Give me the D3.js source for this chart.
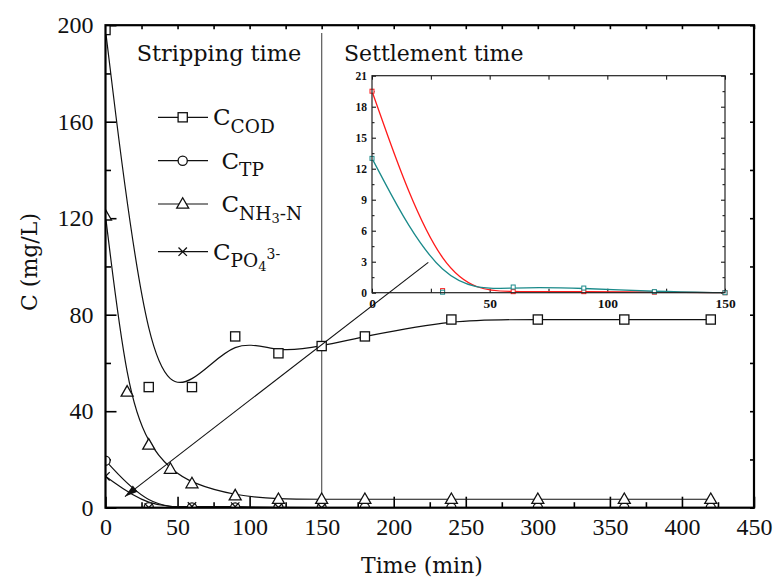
<!DOCTYPE html>
<html><head><meta charset="utf-8">
<script src="https://cdn.jsdelivr.net/npm/d3@7"></script>
<style>
html,body{margin:0;padding:0;background:#fff;}
svg{display:block;}
</style></head>
<body>
<svg id="chart" width="774" height="578"></svg>
<script>
// ---------- data ----------
const timeCOD = [0, 30, 60, 90, 120, 150, 180, 240, 300, 360, 420];
const valCOD  = [198, 50, 50, 71, 64, 67, 71, 78, 78, 78, 78];
const timeNH3 = [0, 15, 30, 45, 60, 90, 120, 150, 180, 240, 300, 360, 420];
const valNH3  = [121, 48, 26, 16, 10, 5, 3.5, 3.5, 3.5, 3.5, 3.5, 3.5, 3.5];
const timeTP  = [0, 30, 60, 90, 120, 150, 180, 240, 300, 360, 420];
const valTP   = [19.5, 0.2, 0.1, 0.1, 0.05, 0, 0, 0, 0, 0, 0];
const timePO4 = [0, 30, 60, 90, 120, 150];
const valPO4  = [13, 0.05, 0.55, 0.45, 0.1, 0];

const xTicks = [0, 50, 100, 150, 200, 250, 300, 350, 400, 450];
const xMinorTicks = [25, 75, 125, 175, 225, 275, 325, 375, 425];
const yTicks = [0, 40, 80, 120, 160, 200];
const yMinorTicks = [20, 60, 100, 140, 180];
const insetXTicks = [0, 50, 100, 150];
const insetXMinor = [25, 75, 125];
const insetYTicks = [0, 3, 6, 9, 12, 15, 18, 21];
const insetYMinor = [1.5, 4.5, 7.5, 10.5, 13.5, 16.5, 19.5];

const phaseBoundary = 150;            // stripping / settlement boundary (min)
const arrowTip  = [13.5, 4.6];        // annotation arrow, data units
const arrowTail = [224, 101.7];

// ---------- setup ----------
const svg = d3.select('#chart');
const SERIF = '"DejaVu Serif", serif';
const NUMF = '"Liberation Serif", "Times New Roman", serif';

const L = 105.5, R = 754, T = 25.2, B = 507.7;
const x = d3.scaleLinear().domain([0, 450]).range([L, R]);
const y = d3.scaleLinear().domain([0, 200]).range([B, T]);

svg.append('defs').append('clipPath').attr('id', 'clipMain')
  .append('rect').attr('x', L).attr('y', T).attr('width', R - L).attr('height', B - T);

function styleAxis(g, font, size, weight) {
  g.select('.domain').remove();
  g.selectAll('line').attr('stroke', '#000').attr('stroke-width', 1.6);
  g.selectAll('text').attr('font-family', font).attr('font-size', size)
    .attr('font-weight', weight || 'normal').attr('fill', '#111');
}

// main axes
svg.append('g').attr('transform', `translate(0,${B})`)
  .call(d3.axisBottom(x).tickValues(xTicks).tickSize(-11).tickPadding(10).tickFormat(d3.format('d')))
  .call(g => styleAxis(g, NUMF, 24));
svg.append('g').attr('transform', `translate(0,${B})`)
  .call(d3.axisBottom(x).tickValues(xMinorTicks).tickSize(-5.5).tickFormat(''))
  .call(g => styleAxis(g, NUMF, 24));
svg.append('g').attr('transform', `translate(${L},0)`)
  .call(d3.axisLeft(y).tickValues(yTicks).tickSize(-11).tickPadding(12).tickFormat(d3.format('d')))
  .call(g => styleAxis(g, NUMF, 24));
svg.append('g').attr('transform', `translate(${L},0)`)
  .call(d3.axisLeft(y).tickValues(yMinorTicks).tickSize(-5.5).tickFormat(''))
  .call(g => styleAxis(g, NUMF, 24));
svg.append('g').attr('transform', `translate(0,${T})`)
  .call(d3.axisTop(x).tickValues(xTicks.concat(xMinorTicks)).tickSize(-4).tickFormat(''))
  .call(g => styleAxis(g, NUMF, 24));
svg.append('g').attr('transform', `translate(${R},0)`)
  .call(d3.axisRight(y).tickValues(yTicks.concat(yMinorTicks)).tickSize(-4).tickFormat(''))
  .call(g => styleAxis(g, NUMF, 24));

// phase boundary line
svg.append('line')
  .attr('x1', x(phaseBoundary)).attr('x2', x(phaseBoundary))
  .attr('y1', 33).attr('y2', B)
  .attr('stroke', '#666').attr('stroke-width', 1.3);

// phase labels
svg.append('text').attr('x', 136.7).attr('y', 61).text('Stripping time')
  .attr('font-family', SERIF).attr('font-size', 22.4).attr('fill', '#111');
svg.append('text').attr('x', 344).attr('y', 61).text('Settlement time')
  .attr('font-family', SERIF).attr('font-size', 22).attr('fill', '#111');

// curves
const plot = svg.append('g').attr('clip-path', 'url(#clipMain)');
const lineMain = d3.line().x(d => x(d[0])).y(d => y(d[1])).curve(d3.curveBasis);
const zip = (a, b) => a.map((t, i) => [t, b[i]]);
const series = [
  {t: timeCOD, v: valCOD, sym: 'square'},
  {t: timeNH3, v: valNH3, sym: 'triangle'},
  {t: timeTP,  v: valTP,  sym: 'circle'},
  {t: timePO4, v: valPO4, sym: 'cross'}
];
series.forEach(s => {
  plot.append('path').datum(zip(s.t, s.v)).attr('d', lineMain)
    .attr('fill', 'none').attr('stroke', '#111').attr('stroke-width', 1.2);
});

function drawMarker(g, sym, cx, cy, color) {
  color = color || '#111';
  if (sym === 'square') {
    g.append('rect').attr('x', cx - 4.6).attr('y', cy - 4.6).attr('width', 9.2).attr('height', 9.2)
      .attr('fill', '#fff').attr('stroke', color).attr('stroke-width', 1.3);
  } else if (sym === 'circle') {
    g.append('circle').attr('cx', cx).attr('cy', cy).attr('r', 4.6)
      .attr('fill', '#fff').attr('stroke', color).attr('stroke-width', 1.3);
  } else if (sym === 'triangle') {
    const h = 10.5, w = 12;
    g.append('path').attr('d', `M${cx},${cy - h * 0.6}L${cx + w / 2},${cy + h * 0.4}L${cx - w / 2},${cy + h * 0.4}Z`)
      .attr('fill', '#fff').attr('stroke', color).attr('stroke-width', 1.3);
  } else if (sym === 'cross') {
    const r = 4.2;
    g.append('path').attr('d', `M${cx - r},${cy - r}L${cx + r},${cy + r}M${cx - r},${cy + r}L${cx + r},${cy - r}`)
      .attr('fill', 'none').attr('stroke', color).attr('stroke-width', 1.3);
  }
}
[series[2], series[3], series[1], series[0]].forEach(s => {
  s.t.forEach((t, i) => drawMarker(plot, s.sym, x(t), y(s.v[i])));
});

// frame
svg.append('rect').attr('x', L).attr('y', T).attr('width', R - L).attr('height', B - T)
  .attr('fill', 'none').attr('stroke', '#000').attr('stroke-width', 2.2);

// axis titles
svg.append('text').attr('x', 422).attr('y', 573).attr('text-anchor', 'middle')
  .attr('font-family', SERIF).attr('font-size', 22).attr('fill', '#111').text('Time (min)');
svg.append('text').attr('transform', 'translate(37,262) rotate(-90)').attr('text-anchor', 'middle')
  .attr('font-family', SERIF).attr('font-size', 22).attr('fill', '#111').text('C (mg/L)');

// legend
const legendRows = [
  {sym: 'square',   ly: 117.3, tx: 213,   parts: [['C', 0, 23], ['COD', 7.5, 18.5]]},
  {sym: 'circle',   ly: 160.7, tx: 221.5, parts: [['C', 0, 23], ['TP', 7.5, 18.5]]},
  {sym: 'triangle', ly: 204,   tx: 221.5, parts: [['C', 0, 23], ['NH', 7.5, 18.5], ['3', 11, 13], ['-N', 7.5, 18.5]]},
  {sym: 'cross',    ly: 251.7, tx: 213,   parts: [['C', 0, 23], ['PO', 7.5, 18.5], ['4', 11, 13], ['3-', -1, 14]]}
];
const leg = svg.append('g');
legendRows.forEach(r => {
  leg.append('line').attr('x1', 158).attr('x2', 208).attr('y1', r.ly).attr('y2', r.ly)
    .attr('stroke', '#111').attr('stroke-width', 1.2);
  drawMarker(leg, r.sym, 182.7, r.ly);
  const base = r.ly + 8;
  const txt = leg.append('text').attr('x', r.tx).attr('y', base)
    .attr('font-family', SERIF).attr('fill', '#111');
  r.parts.forEach(p => {
    txt.append('tspan').attr('y', base + p[1]).attr('font-size', p[2]).text(p[0]);
  });
});

// ---------- inset ----------
const iL = 372, iR = 725, iT = 75.7, iB = 292.7;
const xi = d3.scaleLinear().domain([0, 150]).range([iL, iR]);
const yi = d3.scaleLinear().domain([0, 21]).range([iB, iT]);
const inset = svg.append('g');
inset.append('rect').attr('x', iL).attr('y', iT).attr('width', iR - iL).attr('height', iB - iT)
  .attr('fill', '#fff');
inset.append('g').attr('transform', `translate(0,${iB})`)
  .call(d3.axisBottom(xi).tickValues(insetXTicks).tickSize(-4).tickPadding(6).tickFormat(d3.format('d')))
  .call(g => styleAxis(g, NUMF, 13.5, 'bold'));
inset.append('g').attr('transform', `translate(0,${iB})`)
  .call(d3.axisBottom(xi).tickValues(insetXMinor).tickSize(-4).tickFormat(''))
  .call(g => styleAxis(g, NUMF, 12));
inset.append('g').attr('transform', `translate(${iL},0)`)
  .call(d3.axisLeft(yi).tickValues(insetYTicks).tickSize(-4).tickPadding(5).tickFormat(d3.format('d')))
  .call(g => styleAxis(g, NUMF, 11.5, 'bold'));
inset.append('g').attr('transform', `translate(${iL},0)`)
  .call(d3.axisLeft(yi).tickValues(insetYMinor).tickSize(-2.5).tickFormat(''))
  .call(g => styleAxis(g, NUMF, 11));
inset.append('g').attr('transform', `translate(0,${iT})`)
  .call(d3.axisTop(xi).tickValues(insetXTicks.concat(insetXMinor)).tickSize(-4).tickFormat(''))
  .call(g => styleAxis(g, NUMF, 11));
inset.append('g').attr('transform', `translate(${iR},0)`)
  .call(d3.axisRight(yi).tickValues(insetYTicks).tickSize(-4).tickFormat(''))
  .call(g => styleAxis(g, NUMF, 11));
inset.append('g').attr('transform', `translate(${iR},0)`)
  .call(d3.axisRight(yi).tickValues(insetYMinor).tickSize(-2.5).tickFormat(''))
  .call(g => styleAxis(g, NUMF, 11));
inset.selectAll('line').attr('stroke-width', 1);

const lineIn = d3.line().x(d => xi(d[0])).y(d => yi(d[1])).curve(d3.curveBasis);
const insetSeries = [
  {t: timeTP.filter(t => t <= 150), v: valTP, color: '#ff1a1a'},
  {t: timePO4, v: valPO4, color: '#1a8a8a'}
];
insetSeries.forEach(s => {
  inset.append('path').datum(zip(s.t, s.v)).attr('d', lineIn)
    .attr('fill', 'none').attr('stroke', s.color).attr('stroke-width', 1.3);
});
insetSeries.forEach(s => {
  s.t.forEach((t, i) => {
    inset.append('rect').attr('x', xi(t) - 2).attr('y', yi(s.v[i]) - 2).attr('width', 4).attr('height', 4)
      .attr('fill', '#fff').attr('stroke', s.color).attr('stroke-width', 1);
  });
});
inset.append('rect').attr('x', iL).attr('y', iT).attr('width', iR - iL).attr('height', iB - iT)
  .attr('fill', 'none').attr('stroke', '#222').attr('stroke-width', 1.2);

// annotation arrow
const ax1 = x(arrowTip[0]), ay1 = y(arrowTip[1]);
const ax2 = x(arrowTail[0]), ay2 = y(arrowTail[1]);
svg.append('line').attr('x1', ax1).attr('y1', ay1).attr('x2', ax2).attr('y2', ay2)
  .attr('stroke', '#111').attr('stroke-width', 1.1);
const ang = Math.atan2(ay2 - ay1, ax2 - ax1);
const al = 13, aw = 4;
const bx = ax1 + al * Math.cos(ang), by = ay1 + al * Math.sin(ang);
svg.append('path')
  .attr('d', `M${ax1},${ay1}L${bx - aw * Math.sin(ang)},${by + aw * Math.cos(ang)}L${bx + aw * Math.sin(ang)},${by - aw * Math.cos(ang)}Z`)
  .attr('fill', '#111');
</script>
</body></html>
